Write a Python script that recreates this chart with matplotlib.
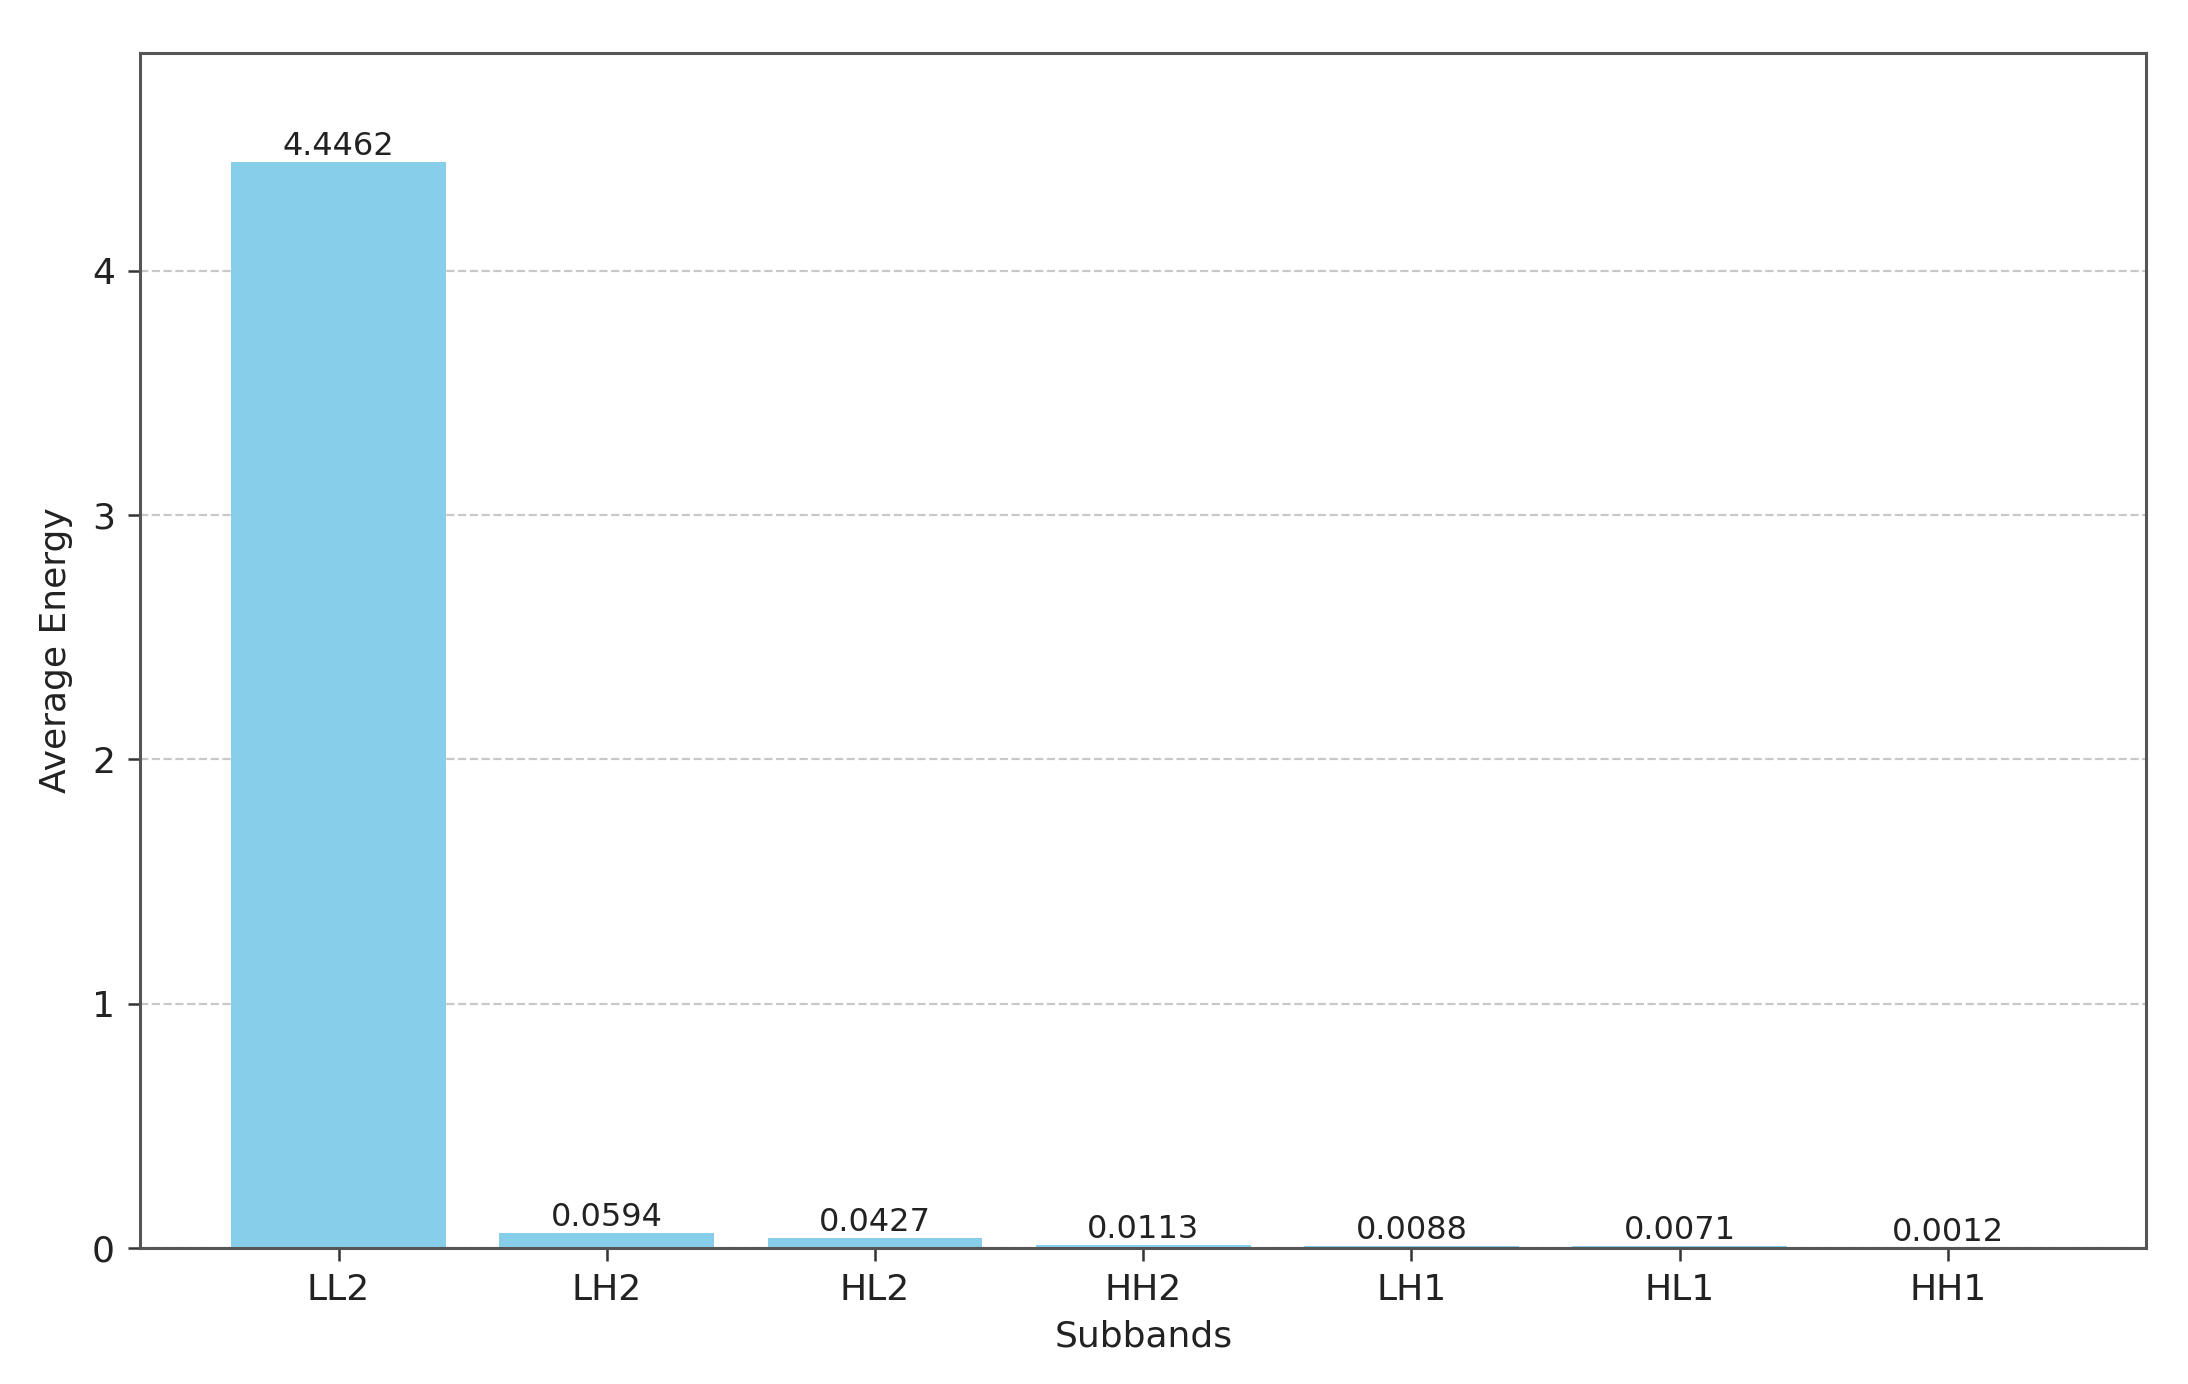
import matplotlib
matplotlib.use("Agg")
import matplotlib.pyplot as plt

subbands = ["LL2", "LH2", "HL2", "HH2", "LH1", "HL1", "HH1"]
energies = [4.4462, 0.0594, 0.0427, 0.0113, 0.0088, 0.0071, 0.0012]

plt.rcParams['font.family'] = ['DejaVu Sans']
fs_val = 23
fs = 26

fig = plt.figure(figsize=(21.88, 13.84), dpi=100)
ax = fig.add_axes([0.064, 0.0983, 0.917, 0.8634])

bars = ax.bar(subbands, energies, color="#87CEEB", width=0.8, zorder=2)
for b, v in zip(bars, energies):
    ax.text(b.get_x() + b.get_width() / 2, b.get_height(), f"{v:.4f}",
            ha="center", va="bottom", fontsize=fs_val, color="#222222")

ax.set_ylim(0, max(energies) * 1.1)
ax.set_xlabel("Subbands", fontsize=fs, color="#222222", labelpad=9)
ax.set_ylabel("Average Energy", fontsize=fs, color="#222222", labelpad=14)
ax.tick_params(axis="both", labelsize=fs, length=9, width=1.8, pad=9,
               colors="#333333", labelcolor="#222222")
ax.grid(axis="y", linestyle="--", color="#bbbbbb", linewidth=1.6, alpha=0.8, zorder=0)
for s in ax.spines.values():
    s.set_linewidth(2.2)
    s.set_color("#555555")

fig.savefig("out.png", dpi=100)
